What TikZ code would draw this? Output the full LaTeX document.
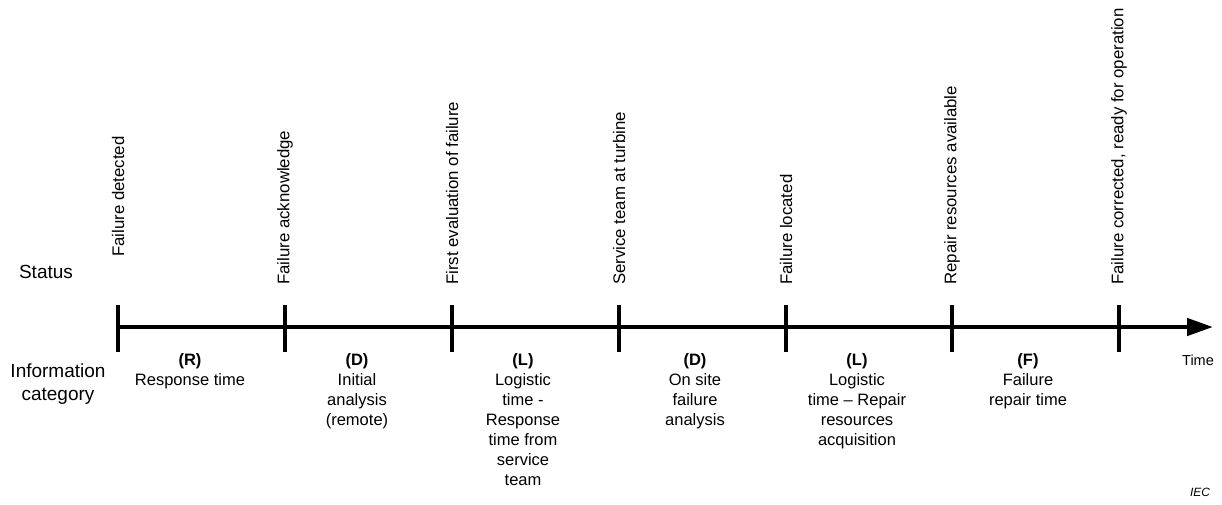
\documentclass[tikz,border=0pt]{standalone}
\usepackage{fontspec}
\setmainfont{Liberation Sans}
\usetikzlibrary{arrows.meta}
\begin{document}
\begin{tikzpicture}[x=1pt,y=-1pt,
  evt/.style={rotate=90,anchor=west,inner sep=0pt,font=\fontsize{16.8}{20}\selectfont},
  cat/.style={anchor=north,inner sep=0pt,align=center,font=\fontsize{16.5}{20}\selectfont},
  side/.style={inner sep=0pt,align=center,font=\fontsize{19}{23}\selectfont},
  tick/.style={line width=4.5pt},
  axis/.style={line width=4.5pt,-{Triangle[length=26pt,width=17pt]}}]
\useasboundingbox (0,0) rectangle (1222,504);
% tick coordinates
\coordinate (t1) at (118,327);
\coordinate (t2) at (285,327);
\coordinate (t3) at (452,327);
\coordinate (t4) at (619,327);
\coordinate (t5) at (786,327);
\coordinate (t6) at (952,327);
\coordinate (t7) at (1119,327);
\coordinate (tend) at (1213,327);
\draw[axis] ([xshift=-2.25pt]t1) -- (tend);
\foreach \i in {1,...,7}{
  \draw[tick] ([yshift=-25pt]t\i) -- ([yshift=22pt]t\i);
}
% status labels
\node[evt] (e1) at (118,257) {Failure detected};
\node[evt] (e2) at (285,285) {Failure acknowledge};
\node[evt] (e3) at (452,285) {First evaluation of failure};
\node[evt] (e4) at (619,285) {Service team at turbine};
\node[evt] (e5) at (786,285) {Failure located};
\node[evt] (e6) at (952,285) {Repair resources available};
\node[evt] (e7) at (1119,285) {Failure corrected, ready for operation};
% categories
\node[cat] (c1) at (190,353) {\textbf{(R)}\\Response time};
\node[cat] (c2) at (357,353) {\textbf{(D)}\\Initial\\analysis\\(remote)};
\node[cat] (c3) at (523,353) {\textbf{(L)}\\Logistic\\time -\\Response\\time from\\service\\team};
\node[cat] (c4) at (695,353) {\textbf{(D)}\\On site\\failure\\analysis};
\node[cat] (c5) at (857,353) {\textbf{(L)}\\Logistic\\time – Repair\\resources\\acquisition};
\node[cat] (c6) at (1028,353) {\textbf{(F)}\\Failure\\repair time};
% side labels
\node[side] (status) at (46,272) {Status};
\node[side] (info) at (58,384.5) {Information\\category};
\node[inner sep=0pt,font=\fontsize{14.5}{17}\selectfont] (time) at (1198,360) {Time};
\node[inner sep=0pt,font=\fontsize{12}{14}\selectfont\itshape] (iec) at (1200,492) {IEC};
\end{tikzpicture}
\end{document}
